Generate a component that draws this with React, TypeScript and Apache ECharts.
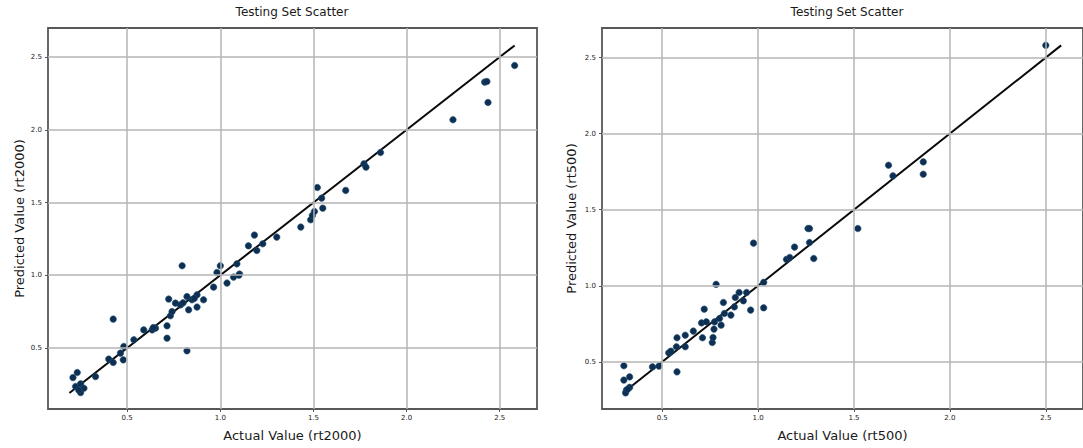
import React, { useEffect, useRef } from "react";
import * as echarts from "echarts";

const TITLE = "Testing Set Scatter";
const TICKS = [0.5, 1.0, 1.5, 2.0, 2.5];

// Left panel: rt2000
const ACTUAL_2000 = [
  0.209, 0.232, 0.223, 0.25, 0.25, 0.268, 0.24, 0.33, 0.401, 0.425, 0.425, 0.464, 0.479, 0.482,
  0.536, 0.589, 0.634, 0.652, 0.64, 0.714, 0.714, 0.732, 0.741, 0.723, 0.759, 0.786, 0.795, 0.821,
  0.83, 0.848, 0.875, 0.875, 0.91, 0.821, 0.86, 0.8, 0.964, 0.982, 1.0, 1.036, 1.071, 1.103, 1.089,
  1.1, 1.151, 1.183, 1.196, 1.228, 1.303, 1.432, 1.485, 1.494, 1.505, 1.55, 1.544, 1.521, 1.673,
  1.771, 1.782, 1.86, 2.249, 2.419, 2.431, 2.437, 2.58,
];
const PRED_2000 = [
  0.296, 0.331, 0.235, 0.253, 0.193, 0.223, 0.21, 0.303, 0.423, 0.4, 0.698, 0.464, 0.418, 0.51,
  0.556, 0.624, 0.624, 0.636, 0.64, 0.652, 0.567, 0.721, 0.75, 0.836, 0.808, 0.796, 1.065, 0.853,
  0.762, 0.831, 0.865, 0.781, 0.831, 0.48, 0.84, 0.81, 0.918, 1.019, 1.065, 0.946, 0.987, 1.008, 1.078,
  1.0, 1.202, 1.276, 1.17, 1.216, 1.262, 1.331, 1.381, 1.411, 1.438, 1.461, 1.53, 1.603, 1.583,
  1.766, 1.743, 1.844, 2.069, 2.328, 2.332, 2.188, 2.442,
];
const FIT_2000 = [0.19, 2.58];

// Right panel: rt500
const ACTUAL_500 = [
  0.3, 0.3, 0.33, 0.313, 0.309, 0.33, 0.32, 0.449, 0.483, 0.534, 0.545, 0.574, 0.577, 0.577, 0.62,
  0.62, 0.662, 0.705, 0.71, 0.719, 0.73, 0.761, 0.765, 0.77, 0.773, 0.781, 0.799, 0.807, 0.819,
  0.824, 0.858, 0.876, 0.881, 0.901, 0.923, 0.94, 0.961, 0.976, 1.029, 1.029, 1.148, 1.165, 1.19,
  1.26, 1.268, 1.268, 1.29, 1.52, 1.68, 1.703, 1.861, 1.861, 2.5,
];
const PRED_500 = [
  0.474, 0.38, 0.401, 0.314, 0.296, 0.332, 0.32, 0.467, 0.472, 0.559, 0.57, 0.599, 0.658, 0.434, 0.599,
  0.675, 0.702, 0.756, 0.658, 0.846, 0.763, 0.627, 0.66, 0.715, 0.763, 1.009, 0.785, 0.741, 0.89,
  0.818, 0.807, 0.861, 0.923, 0.956, 0.901, 0.956, 0.84, 1.28, 1.022, 0.855, 1.173, 1.186, 1.254,
  1.376, 1.376, 1.284, 1.179, 1.376, 1.792, 1.722, 1.814, 1.733, 2.58,
];
const FIT_500 = [0.3, 2.58];

const FONT = "DejaVu Sans";

function zip(a: number[], b: number[]) {
  return a.map((v, i) => [v, b[i]]);
}

function makeAxis(grid: number, min: number, max: number, name: string, isY: boolean, nameGap: number) {
  return {
    type: "value",
    gridIndex: grid,
    min,
    max,
    name,
    nameLocation: "middle",
    nameGap,
    nameTextStyle: { fontFamily: FONT, fontSize: 13, color: "#1a1a1a" },
    axisLine: { show: false },
    axisTick: { show: true, customValues: TICKS, length: 3, lineStyle: { color: "#555", width: 1 } },
    axisLabel: {
      customValues: TICKS,
      formatter: (v: number) => v.toFixed(1),
      fontFamily: FONT,
      fontSize: 7,
      color: "#222",
      margin: isY ? 6 : 5,
    },
    splitLine: { show: false },
  };
}

export default function App() {
  const ref = useRef<HTMLDivElement>(null);
  useEffect(() => {
    if (!ref.current) return;
    const chart = echarts.init(ref.current, undefined, { renderer: "svg" });
    const gridLines = (xi: number) => ({
      type: "scatter",
      xAxisIndex: xi,
      yAxisIndex: xi,
      data: [],
      z: 1,
      silent: true,
      markLine: {
        silent: true,
        symbol: ["none", "none"],
        label: { show: false },
        lineStyle: { color: "#b4b4b4", width: 1.5, type: "solid" },
        data: [...TICKS.map((v) => ({ xAxis: v })), ...TICKS.map((v) => ({ yAxis: v }))],
      },
    });
    const fit = (xi: number, r: number[]) => ({
      type: "line",
      xAxisIndex: xi,
      yAxisIndex: xi,
      data: [
        [r[0], r[0]],
        [r[1], r[1]],
      ],
      symbol: "none",
      z: 2,
      lineStyle: { color: "#0a0a0a", width: 2 },
    });
    const pts = (xi: number, a: number[], b: number[]) => ({
      type: "scatter",
      xAxisIndex: xi,
      yAxisIndex: xi,
      data: zip(a, b),
      symbolSize: 6.5,
      z: 3,
      itemStyle: { color: "#0f2f52", borderColor: "#1c4f72", borderWidth: 0.6, opacity: 1 },
    });
    chart.setOption({
      animation: false,
      backgroundColor: "#ffffff",
      grid: [
        { left: 48, top: 28, width: 489, height: 381, show: true, borderColor: "#585858", borderWidth: 1.8, backgroundColor: "transparent" },
        { left: 602, top: 28, width: 490, height: 381, show: true, borderColor: "#585858", borderWidth: 1.8, backgroundColor: "transparent" },
      ],
      xAxis: [
        makeAxis(0, 0.075, 2.7, "Actual Value (rt2000)", false, 20),
        makeAxis(1, 0.186, 2.694, "Actual Value (rt500)", false, 20),
      ],
      yAxis: [
        makeAxis(0, 0.08, 2.7, "Predicted Value (rt2000)", true, 22),
        makeAxis(1, 0.19, 2.694, "Predicted Value (rt500)", true, 24),
      ],
      graphic: [
        { type: "text", x: 292, y: 12, style: { text: TITLE, fontFamily: FONT, fontSize: 12, fill: "#1a1a1a", textAlign: "center", textVerticalAlign: "middle" } },
        { type: "text", x: 847, y: 12, style: { text: TITLE, fontFamily: FONT, fontSize: 12, fill: "#1a1a1a", textAlign: "center", textVerticalAlign: "middle" } },
      ],
      series: [
        gridLines(0),
        gridLines(1),
        fit(0, FIT_2000),
        fit(1, FIT_500),
        pts(0, ACTUAL_2000, PRED_2000),
        pts(1, ACTUAL_500, PRED_500),
      ],
    });
    return () => chart.dispose();
  }, []);
  return <div ref={ref} style={{ position: "fixed", left: 0, top: 0, width: 1083, height: 448 }} />;
}
